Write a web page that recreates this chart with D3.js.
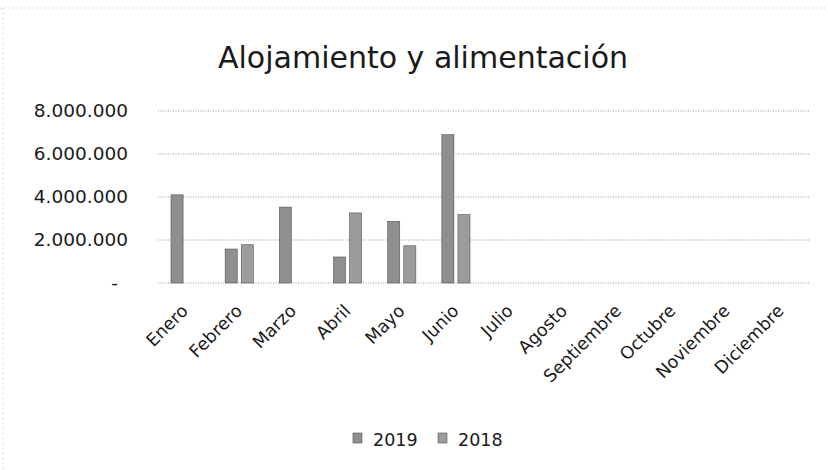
<!DOCTYPE html>
<html>
<head>
<meta charset="utf-8">
<script src="https://cdn.jsdelivr.net/npm/d3@7"></script>
<style>
  body { margin: 0; background: #fff; }
  text { font-family: "DejaVu Sans", sans-serif; fill: #1a1a1a; }
</style>
</head>
<body>
<svg class="chart" width="828" height="470"></svg>
<script>
// Data
var months = ["Enero", "Febrero", "Marzo", "Abril", "Mayo", "Junio", "Julio",
              "Agosto", "Septiembre", "Octubre", "Noviembre", "Diciembre"];
var series = ["2019", "2018"];
var values2019 = [4100000, 1580000, 3530000, 1210000, 2870000, 6900000, 0, 0, 0, 0, 0, 0];
var values2018 = [0, 1780000, 0, 3260000, 1730000, 3180000, 0, 0, 0, 0, 0, 0];
var yTicks = [0, 2000000, 4000000, 6000000, 8000000];

var svg = d3.select(".chart");
var margin = {top: 111, right: 20, bottom: 187, left: 158};
var width = 808 - margin.left;
var height = 283 - margin.top;

var data = months.map(function(m, i) {
    return {month: m, values: [
        {series: "2019", value: values2019[i]},
        {series: "2018", value: values2018[i]}
    ]};
});

// Scan border traces
svg.append("line")
    .attr("x1", 0).attr("x2", 828).attr("y1", 8).attr("y2", 8)
    .attr("stroke", "#bbb").attr("stroke-dasharray", "1,3");
svg.append("line")
    .attr("x1", 3).attr("x2", 3).attr("y1", 8).attr("y2", 470)
    .attr("stroke", "#bbb").attr("stroke-dasharray", "1,4");

// Title
svg.append("text")
    .attr("x", 423)
    .attr("y", 68)
    .style("text-anchor", "middle")
    .style("font-size", "30px")
    .text("Alojamiento y alimentación");

// Scales
var x0 = d3.scaleBand().domain(months).range([0, width]);
var x1 = d3.scaleBand().domain(series)
    .range([x0.bandwidth() * 0.24, x0.bandwidth() * 0.76])
    .paddingInner(0.25);
var y = d3.scaleLinear().domain([0, 8000000]).range([height, 0]);

var chart = svg.append("g")
    .attr("transform", "translate(" + margin.left + "," + margin.top + ")");

// Gridlines
chart.append("g")
    .selectAll("line")
    .data(yTicks)
    .enter()
        .append("line")
        .attr("x1", 0)
        .attr("x2", width + 2)
        .attr("y1", function(d) { return y(d); })
        .attr("y2", function(d) { return y(d); })
        .attr("stroke", "#999")
        .attr("stroke-dasharray", "1,1.5");

// Y axis labels
var fmt = d3.formatLocale({decimal: ",", thousands: ".", grouping: [3], currency: ["", ""]}).format(",d");
var yAxis = chart.append("g")
    .call(d3.axisLeft(y).tickValues(yTicks).tickSize(0).tickPadding(30)
        .tickFormat(function(d) { return d === 0 ? "-" : fmt(d); }));
yAxis.select(".domain").remove();
yAxis.selectAll("text")
    .style("font-size", "18.5px")
    .attr("fill", "#1a1a1a")
    .attr("dx", function(d) { return d === 0 ? "-10px" : 0; });

// X axis labels
var xAxis = chart.append("g")
    .attr("transform", "translate(0," + height + ")")
    .call(d3.axisBottom(x0).tickSize(0).tickPadding(0));
xAxis.select(".domain").remove();
xAxis.selectAll("text")
    .style("font-size", "17.5px")
    .attr("fill", "#1a1a1a")
    .style("text-anchor", "end")
    .attr("dy", 0)
    .attr("transform", "translate(4,29) rotate(-45)");

// Bars
var groups = chart.selectAll(".month")
    .data(data)
    .enter()
        .append("g")
        .attr("class", "month")
        .attr("transform", function(d) { return "translate(" + x0(d.month) + ",0)"; });

groups.selectAll("rect")
    .data(function(d) { return d.values.filter(function(v) { return v.value > 0; }); })
    .enter()
        .append("rect")
        .attr("x", function(d) { return x1(d.series); })
        .attr("width", x1.bandwidth())
        .attr("y", function(d) { return y(d.value); })
        .attr("height", function(d) { return height - y(d.value); })
        .attr("fill", function(d) { return d.series === "2019" ? "#8f8f8f" : "#9c9c9c"; })
        .attr("stroke", "#555")
        .attr("stroke-width", 0.6);

// Legend
var legend = svg.append("g")
    .attr("transform", "translate(353,438)");
var legendItems = [{label: "2019", x: 0, fill: "#8f8f8f"}, {label: "2018", x: 85, fill: "#9c9c9c"}];
legend.selectAll("rect")
    .data(legendItems)
    .enter()
        .append("rect")
        .attr("x", function(d) { return d.x; })
        .attr("y", -5)
        .attr("width", 9)
        .attr("height", 10)
        .attr("fill", function(d) { return d.fill; })
        .attr("stroke", "#555")
        .attr("stroke-width", 0.6);
legend.selectAll("text")
    .data(legendItems)
    .enter()
        .append("text")
        .attr("x", function(d) { return d.x + 20; })
        .attr("y", 8)
        .style("font-size", "17.5px")
        .text(function(d) { return d.label; });
</script>
</body>
</html>
